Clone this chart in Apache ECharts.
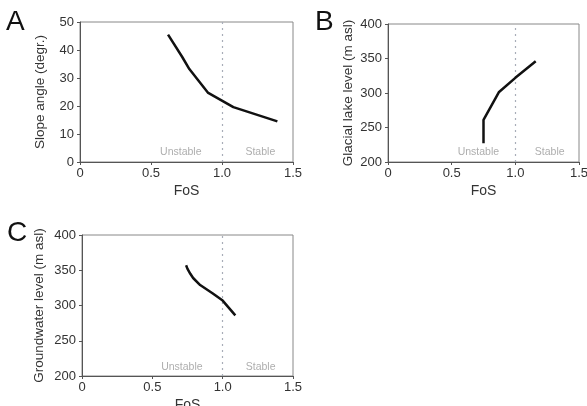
<!DOCTYPE html>
<html><head><meta charset="utf-8">
<script src="https://cdn.jsdelivr.net/npm/echarts@6/dist/echarts.min.js"></script>
<style>html,body{margin:0;padding:0;background:#fff}#c{width:587px;height:406px}</style>
</head><body><div id="c"></div>
<script>
// Data
var fosA = [0.62, 0.72, 0.77, 0.90, 1.08, 1.39];
var slopeA = [45.5, 37.5, 33.2, 24.8, 19.6, 14.5];
var fosB = [0.75, 0.75, 0.87, 1.00, 1.16];
var lakeB = [227, 261, 301, 322, 346];
var fosC = [0.74, 0.75, 0.77, 0.79, 0.84, 0.93, 1.00, 1.09];
var gwC = [357, 352, 345, 339, 329, 317, 307, 286];
var xTicks = ['0', '0.5', '1.0', '1.5'];
var threshold = 1.0;

function pairs(xs, ys){ return xs.map(function(x,i){ return [x, ys[i]]; }); }

var FONT = 'Liberation Sans, Arial, sans-serif';
var grids = [
  {left: 80, top: 22, width: 213, height: 140},
  {left: 388, top: 24, width: 191, height: 138},
  {left: 82, top: 235, width: 211, height: 141}
];
var yDefs = [
  {min: 0, max: 50, interval: 10, name: 'Slope angle (degr.)'},
  {min: 200, max: 400, interval: 50, name: 'Glacial lake level (m asl)'},
  {min: 200, max: 400, interval: 50, name: 'Groundwater level (m asl)'}
];
var labelY = [3.5, 214, 213];

function xAx(i){
  return {
    gridIndex: i, type: 'value', min: 0, max: 1.5, interval: 0.5,
    name: 'FoS', nameLocation: 'middle', nameGap: 22,
    nameTextStyle: {color: '#333', fontSize: 14, fontFamily: FONT},
    axisLine: {lineStyle: {color: '#555', width: 1}},
    axisTick: {show: true, length: 3, lineStyle: {color: '#555'}},
    axisLabel: {color: '#333', fontSize: 13, fontFamily: FONT, margin: 5,
      formatter: function(v){ return xTicks[Math.round(v/0.5)]; }},
    splitLine: {show: false}
  };
}
function yAx(i){
  var d = yDefs[i];
  return {
    gridIndex: i, type: 'value', min: d.min, max: d.max, interval: d.interval,
    name: d.name, nameLocation: 'middle', nameGap: i === 2 ? 36 : 33,
    nameTextStyle: {color: '#333', fontSize: 13.5, fontFamily: FONT},
    axisLine: {show: true, lineStyle: {color: '#555', width: 1}},
    axisTick: {show: true, length: 3, lineStyle: {color: '#555'}},
    axisLabel: {color: '#333', fontSize: 13, fontFamily: FONT, margin: 6},
    splitLine: {show: false}
  };
}
var datasets = [pairs(fosA, slopeA), pairs(fosB, lakeB), pairs(fosC, gwC)];
var series = [];
datasets.forEach(function(d, i){
  series.push({
    type: 'line', xAxisIndex: i, yAxisIndex: i, data: d, showSymbol: false,
    lineStyle: {color: '#111', width: 2.5}, silent: true, z: 5,
    markLine: {silent: true, symbol: 'none', label: {show: false},
      lineStyle: {color: '#a8adb8', type: [2, 4], width: 1.2},
      data: [{xAxis: threshold}]}
  });
  series.push({
    type: 'scatter', xAxisIndex: i, yAxisIndex: i, symbolSize: 0, silent: true,
    data: [{name: 'Unstable', value: [0.71, labelY[i]]}, {name: 'Stable', value: [1.27, labelY[i]]}],
    label: {show: true, position: 'inside', formatter: '{b}', color: '#999', fontSize: 10.5, fontFamily: FONT}
  });
});

var chart = echarts.init(document.getElementById('c'));
chart.setOption({
  animation: false,
  backgroundColor: '#fff',
  grid: grids.map(function(g){ return Object.assign({show: true, borderColor: '#888', borderWidth: 1, backgroundColor: 'transparent', containLabel: false, outerBoundsMode: 'none'}, g); }),
  xAxis: [xAx(0), xAx(1), xAx(2)],
  yAxis: [yAx(0), yAx(1), yAx(2)],
  series: series,
  graphic: [
    {type: 'text', left: 6, top: 8, style: {text: 'A', fontSize: 28, fontFamily: FONT, fill: '#111'}},
    {type: 'text', left: 315, top: 8, style: {text: 'B', fontSize: 28, fontFamily: FONT, fill: '#111'}},
    {type: 'text', left: 7, top: 219, style: {text: 'C', fontSize: 28, fontFamily: FONT, fill: '#111'}}
  ]
});
</script></body></html>
